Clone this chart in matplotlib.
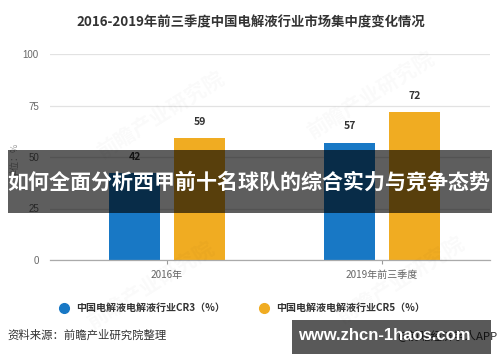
# -*- coding: utf-8 -*-
"""
CR3 / CR5 concentration of the Chinese electrolyte industry, 2016 vs 2019 Q1-Q3.

Outputs:
    out.png
"""

from __future__ import annotations

import matplotlib

matplotlib.use("Agg")

import matplotlib.pyplot as plt
import numpy as np
from matplotlib.patches import Rectangle

OUTPUT_PNG = "out.png"
FIGURE_SIZE = (5.0, 3.62)
EXPORT_DPI = 100

CATEGORIES = ["2016年", "2019年前三季度"]
CR3_VALUES = [42, 57]
CR5_VALUES = [59, 72]
SERIES_LABELS = ["中国电解液电解液行业CR3（%）", "中国电解液电解液行业CR5（%）"]
Y_TICKS = [0, 25, 50, 75, 100]

TITLE = "2016-2019年前三季度中国电解液行业市场集中度变化情况"
Y_LABEL = "单位：%"
SOURCE_TEXT = "资料来源：前瞻产业研究院整理"
CREDIT_TEXT = "@前瞻经济学人APP"
WATERMARK = "前瞻产业研究院"
OVERLAY_TEXT = "如何全面分析西甲前十名球队的综合实力与竞争态势"
BANNER_TEXT = "www.zhcn-1haos.com"

BLUE = "#1878c5"
ORANGE = "#f0ac22"
TEXT_DARK = "#333333"
TICK_GRAY = "#666666"
GRID_COLOR = "#e2e2e2"


def configure_matplotlib() -> None:
    plt.rcParams.update(
        {
            "font.family": ["Noto Sans CJK SC", "DejaVu Sans"],
            "font.size": 7,
            "axes.unicode_minus": False,
        }
    )


def px_x(x: float) -> float:
    return x / 500


def px_y(y: float) -> float:
    return 1 - y / 362


def draw_bars(ax: plt.Axes) -> None:
    positions = np.arange(len(CATEGORIES))
    offset = 0.151
    width = 0.237
    for values, color, shift in ((CR3_VALUES, BLUE, -offset), (CR5_VALUES, ORANGE, offset)):
        bars = ax.bar(positions + shift, values, width=width, color=color, zorder=3)
        for bar, value in zip(bars, values):
            ax.annotate(
                f"{value}",
                (bar.get_x() + bar.get_width() / 2, bar.get_height()),
                xytext=(0, 8),
                textcoords="offset points",
                ha="center",
                va="bottom",
                fontsize=7.5,
                fontweight="bold",
                color=TEXT_DARK,
            )

    ax.set_xlim(-0.544, 1.502)
    ax.set_ylim(0, 100)
    ax.set_xticks(positions)
    ax.set_xticklabels(CATEGORIES, color=TICK_GRAY, fontsize=7.2)
    ax.set_yticks(Y_TICKS)
    ax.set_yticklabels([str(t) for t in Y_TICKS], color=TICK_GRAY, fontsize=7,
                       family=["Liberation Sans", "DejaVu Sans"])
    ax.tick_params(axis="y", length=0, pad=8)
    ax.tick_params(axis="x", length=3, color="#999999", pad=4)
    ax.grid(True, axis="y", color=GRID_COLOR, linewidth=0.9, zorder=0)
    for side in ("top", "right", "left"):
        ax.spines[side].set_visible(False)
    ax.spines["bottom"].set_color("#aaaaaa")
    ax.spines["bottom"].set_linewidth(0.9)
    ax.spines["bottom"].set_zorder(4)


def draw_decorations(fig: plt.Figure) -> None:
    fig.text(px_x(251), px_y(22), TITLE, ha="center", va="center",
             fontsize=9.6, fontweight="bold", color=TEXT_DARK)
    fig.text(px_x(15), px_y(160), Y_LABEL, rotation=90, ha="center", va="center",
             fontsize=6.5, color="#999999")

    # faint watermark
    for x, y in ((160, 115), (370, 95), (150, 285), (400, 280)):
        fig.text(px_x(x), px_y(y), WATERMARK, rotation=32, ha="center", va="center",
                 fontsize=15, fontweight="bold", color="#000000", alpha=0.025)

    # legend
    for cx, color, label in ((64, BLUE, SERIES_LABELS[0]), (264, ORANGE, SERIES_LABELS[1])):
        fig.lines.append(
            plt.Line2D([px_x(cx)], [px_y(308)], marker="o", markersize=7,
                       color=color, linestyle="none", transform=fig.transFigure)
        )
        fig.text(px_x(cx + 12), px_y(308), label, ha="left", va="center",
                 fontsize=7.2, fontweight="bold", color=TEXT_DARK)

    fig.text(px_x(7), px_y(335), SOURCE_TEXT, ha="left", va="center",
             fontsize=8.2, color=TEXT_DARK)
    fig.text(px_x(498), px_y(335), CREDIT_TEXT, ha="right", va="center",
             fontsize=8.2, color=TEXT_DARK)

    # overlay band across the middle
    fig.patches.append(
        Rectangle((px_x(8), px_y(213)), px_x(484), 63 / 362, transform=fig.transFigure,
                  facecolor="#000000", alpha=0.63, edgecolor="none", zorder=10)
    )
    fig.text(px_x(249), px_y(182), OVERLAY_TEXT, ha="center", va="center",
             fontsize=15.1, fontweight="bold", color="white", zorder=11)

    # bottom-right banner
    fig.patches.append(
        Rectangle((px_x(292), px_y(354)), px_x(199), 34 / 362, transform=fig.transFigure,
                  facecolor="#000000", alpha=0.65, edgecolor="none", zorder=10)
    )
    fig.text(px_x(384), px_y(336), BANNER_TEXT, ha="center", va="center",
             fontsize=12, fontweight="bold", color="white", zorder=11,
             family=["Liberation Sans", "DejaVu Sans"])


def main() -> None:
    configure_matplotlib()
    fig = plt.figure(figsize=FIGURE_SIZE, dpi=EXPORT_DPI, facecolor="white")
    ax = fig.add_axes([px_x(50), px_y(260), px_x(440), 206 / 362])
    draw_bars(ax)
    draw_decorations(fig)
    fig.savefig(OUTPUT_PNG, dpi=EXPORT_DPI, facecolor="white")
    plt.close(fig)


if __name__ == "__main__":
    main()
